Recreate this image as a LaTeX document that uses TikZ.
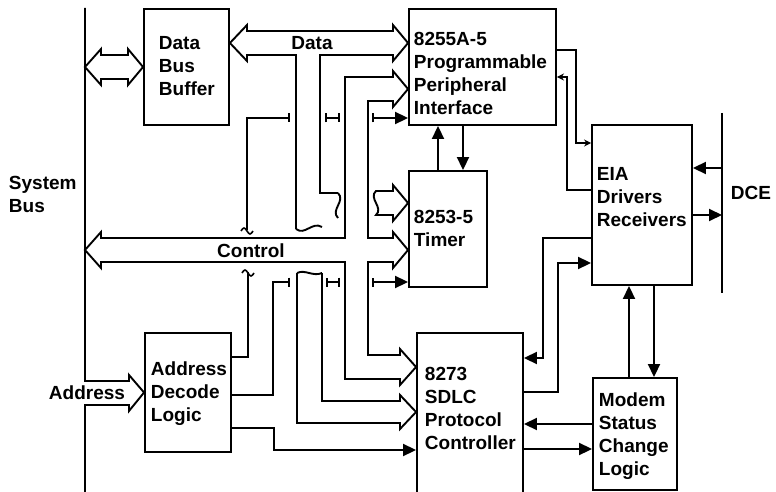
\documentclass[tikz,border=0pt]{standalone}
\usepackage{fontspec}
\setmainfont{Liberation Sans}
\usetikzlibrary{arrows.meta}
\newcommand{\drawwire}{\draw[line width=1.9pt]}
\newcommand{\drawtick}{\draw[line width=1.9pt,{Bar[width=9pt]}-{Bar[width=9pt]}]}
\newcommand{\tildemark}[1]{\draw[line width=1.6pt] (#1) ++(-6,1) sin ++(3,-3) cos ++(3,3) sin ++(3,3) cos ++(3,-3);}

\begin{document}
\begin{tikzpicture}[x=1pt,y=-1pt,line width=1.9pt,line join=miter,
  blk/.style={draw,inner sep=0pt,line width=1.9pt},
  txt/.style={inner sep=0pt,align=left,anchor=west,font=\fontsize{19}{23}\selectfont\bfseries},
  >={Triangle[length=13pt,width=12pt]}]
\useasboundingbox (0,0) rectangle (776,492);
% blocks
\node[blk,minimum width=85,minimum height=116] (dbb) at (186.5,67) {};
\node[blk,minimum width=147,minimum height=116] (ppi) at (482.5,67) {};
\node[blk,minimum width=78,minimum height=116] (tmr) at (448,229) {};
\node[blk,minimum width=100,minimum height=160] (eia) at (642,205) {};
\node[blk,minimum width=86,minimum height=119] (adl) at (188,392.5) {};
\node[blk,minimum width=106,minimum height=180] (sdlc) at (470,423) {};
\node[blk,minimum width=84,minimum height=112] (msc) at (635,434) {};
\node[txt] (dbbt) at (158,66) {Data\\Bus\\Buffer};
\node[txt] (ppit) at (413,73) {8255A-5\\Programmable\\Peripheral\\Interface};
\node[txt] (tmrt) at (413,228.5) {8253-5\\Timer};
\node[txt] (eiat) at (596,197.5) {EIA\\Drivers\\Receivers};
\node[txt] (adlt) at (150,393.5) {Address\\Decode\\Logic};
\node[txt] (sdlct) at (424,408) {8273\\SDLC\\Protocol\\Controller};
\node[txt] (msct) at (598,436) {Modem\\Status\\Change\\Logic};
\node[txt] (sysbus) at (8,194) {System\\Bus};
\node[txt] (dce) at (730,193) {DCE};
% system bus and buses
\drawwire (85,8) -- (85,381) -- (129,381) -- (129,375) -- (adl.west) -- (129,411) -- (129,405) -- (85,405) -- (85,495);
\drawwire (85,67) -- (101,49) -- (101,55) -- (128,55) -- (128,49) -- (dbb.west) -- (128,85) -- (128,79) -- (101,79) -- (101,85) -- cycle;
\drawwire (296,229) -- (296,55) -- (247,55) -- (247,61) -- (dbb.east |- 0,43) -- (247,25) -- (247,31) -- (393,31) -- (393,25) -- (ppi.west |- 0,43) -- (393,61) -- (393,55) -- (320,55) -- (320,193) -- (338,193);
\drawwire (296,229) .. controls (305,236) and (312,221) .. (322,227);
\drawwire (338,193) .. controls (346,201) and (330,210) .. (338,218);
\drawwire (85,250) -- (101,232) -- (101,238) -- (345,238) -- (345,77) -- (393,77) -- (393,71) -- (ppi.west |- 0,89) -- (393,107) -- (393,101) -- (368,101) -- (368,238) -- (393,238) -- (393,232) -- (tmr.west |- 0,250) -- (393,268) -- (393,262) -- (368,262) -- (368,355) -- (400,355) -- (400,349) -- (sdlc.west |- 0,367) -- (400,385) -- (400,379) -- (345,379) -- (345,262) -- (101,262) -- (101,268) -- cycle;
\drawwire (376,215) .. controls (384,208) and (368,198) .. (376,191) -- (393,191) -- (393,185) -- (tmr.west |- 0,203) -- (393,221) -- (393,215) -- cycle;
\drawwire (322,273) -- (322,401) -- (400,401) -- (400,395) -- (sdlc.west |- 0,412) -- (400,429) -- (400,423) -- (297,423) -- (297,273);
\drawwire (297,273) .. controls (305,269) and (313,277) .. (322,273);
\node[txt,anchor=center] (datalbl) at (312,43) {Data};
\node[txt,anchor=center] (ctrllbl) at (251,251) {Control};
\node[txt,anchor=center] (addrlbl) at (87,393) {Address};
% select lines
\drawwire[-{Bar[width=9pt]}] (247,230) |- (290,118);
\tildemark{247,230}
\drawtick (325,118) -- (340,118);
\drawwire[{Bar[width=9pt]}->] (372,118) -- (ppi.west |- 0,118);
\drawwire (adl.east |- 0,357) -| (248,272);
\tildemark{248,272}
\drawwire[-{Bar[width=9pt]}] (adl.east |- 0,395) -| (273,282) -- (290,282);
\drawtick (326,282) -- (340,282);
\drawwire[{Bar[width=9pt]}->] (372,282) -- (tmr.west |- 0,282);
\drawwire[->] (adl.east |- 0,428) -| (274,450) -- (sdlc.west |- 0,450);
% right side
\drawwire[->] ([xshift=-10pt]tmr.north) -- ([xshift=-10pt]tmr.north |- ppi.south);
\drawwire[->] ([xshift=15pt]tmr.north |- ppi.south) -- ([xshift=15pt]tmr.north);
\drawwire[-{Stealth[length=7pt,width=7pt]}] (ppi.east |- 0,50) -- (576,50) |- (eia.west |- 0,143);
\drawwire[-{Stealth[length=7pt,width=7pt]}] (eia.west |- 0,190) -- (567,190) |- (ppi.east |- 0,77);
\coordinate (dcetop) at (722,113);
\coordinate (dcebot) at (722,293);
\drawwire (dcetop) -- (dcebot);
\drawwire[->] (dcetop |- 0,168) -- (eia.east |- 0,168);
\drawwire[->] (eia.east |- 0,215) -- (dcetop |- 0,215);
\drawwire[->] (eia.west |- 0,238) -- (543,238) |- (sdlc.east |- 0,358);
\drawwire[->] (sdlc.east |- 0,392) -- (558,392) |- (eia.west |- 0,263);
\drawwire[->] ([xshift=-6pt]msc.north) -- ([xshift=-6pt]msc.north |- eia.south);
\drawwire[->] ([xshift=19pt]msc.north |- eia.south) -- ([xshift=19pt]msc.north);
\drawwire[->] (msc.west |- 0,424) -- (sdlc.east |- 0,424);
\drawwire[->] (sdlc.east |- 0,449) -- (msc.west |- 0,449);
\end{tikzpicture}
\end{document}
